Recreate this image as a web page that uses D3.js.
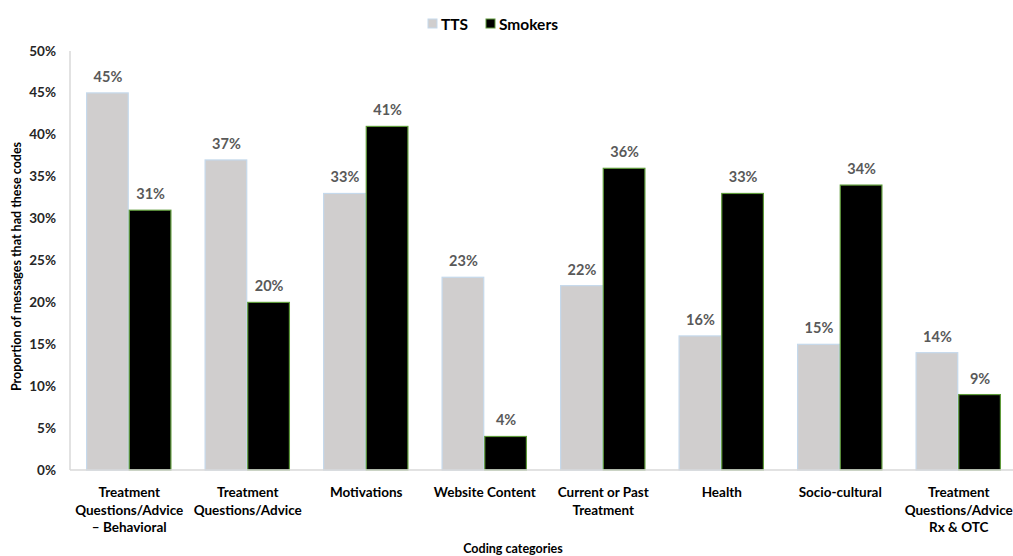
<!DOCTYPE html>
<html>
<head>
<meta charset="utf-8">
<script src="https://cdn.jsdelivr.net/npm/d3@7"></script>
<style>
  body { margin: 0; background: #fff; }
  text { font-family: Lato, "Open Sans", sans-serif; font-weight: bold; }
</style>
</head>
<body>
<script>
var width = 1013, height = 556;
var margin = {top: 51, left: 70, bottom: 86};

var categories = [
  ["Treatment", "Questions/Advice", "\u2013 Behavioral"],
  ["Treatment", "Questions/Advice"],
  ["Motivations"],
  ["Website Content"],
  ["Current or Past", "Treatment"],
  ["Health"],
  ["Socio-cultural"],
  ["Treatment", "Questions/Advice", "Rx & OTC"]
];
var tts = [45, 37, 33, 23, 22, 16, 15, 14];
var smokers = [31, 20, 41, 4, 36, 33, 34, 9];
var seriesNames = ["TTS", "Smokers"];
var yTicks = [0, 5, 10, 15, 20, 25, 30, 35, 40, 45, 50];

var fills = ["#d0cece", "#000000"];
var strokes = ["#c5d9ec", "#5e9a3a"];

var svg = d3.select("body").append("svg")
    .attr("width", width)
    .attr("height", height);

var y = d3.scaleLinear().domain([0, 50]).range([height - margin.bottom, margin.top]);
var x = d3.scaleBand().domain(d3.range(categories.length))
    .range([margin.left, margin.left + 8 * 118.5])
    .paddingInner(0.28).paddingOuter(0.14);
var xs = d3.scaleBand().domain([0, 1]).range([0, x.bandwidth()]);

// y axis line
svg.append("line")
    .attr("x1", margin.left).attr("x2", margin.left)
    .attr("y1", y(50)).attr("y2", y(0))
    .style("stroke", "#d9d9d9").style("stroke-width", 1.5);

// y tick labels
svg.selectAll(".ytick")
    .data(yTicks)
    .enter().append("text")
    .attr("x", 56)
    .attr("y", function(d) { return y(d) + 4.5; })
    .attr("text-anchor", "end")
    .attr("font-size", "13.5px")
    .attr("fill", "#262626")
    .text(function(d) { return d + "%"; });

var rows = [];
categories.forEach(function(c, i) {
  rows.push({cat: i, s: 0, v: tts[i]});
  rows.push({cat: i, s: 1, v: smokers[i]});
});

svg.selectAll(".bar")
    .data(rows)
    .enter().append("rect")
    .attr("x", function(d) { return x(d.cat) + xs(d.s); })
    .attr("width", xs.bandwidth() - 1)
    .attr("y", function(d) { return y(d.v); })
    .attr("height", function(d) { return y(0) - y(d.v); })
    .style("fill", function(d) { return fills[d.s]; })
    .style("stroke", function(d) { return strokes[d.s]; })
    .style("stroke-width", 1.2);

svg.selectAll(".val")
    .data(rows)
    .enter().append("text")
    .attr("x", function(d) { return x(d.cat) + xs(d.s) + xs.bandwidth() / 2; })
    .attr("y", function(d) { return y(d.v) - 11; })
    .attr("text-anchor", "middle")
    .attr("font-size", "14.5px")
    .attr("fill", "#595959")
    .text(function(d) { return d.v + "%"; });

svg.append("line")
    .attr("x1", margin.left).attr("x2", width)
    .attr("y1", y(0)).attr("y2", y(0))
    .style("stroke", "#d9d9d9").style("stroke-width", 1.5);

// category labels
var cl = svg.selectAll(".cat")
    .data(categories)
    .enter().append("text")
    .attr("text-anchor", "middle")
    .attr("font-size", "13.5px")
    .attr("fill", "#000");
cl.selectAll("tspan")
    .data(function(d, i) { return d.map(function(t) { return {t: t, i: i}; }); })
    .enter().append("tspan")
    .attr("x", function(d) { return x(d.i) + x.bandwidth() / 2; })
    .attr("y", function(d, j) { return 497 + j * 17.5; })
    .text(function(d) { return d.t; });

// axis titles
svg.append("text")
    .attr("transform", "translate(21," + ((y(0) + y(50)) / 2 + 6) + ") rotate(-90)")
    .attr("text-anchor", "middle")
    .attr("font-size", "12.5px")
    .attr("fill", "#000")
    .text("Proportion of messages that had these codes");

svg.append("text")
    .attr("x", 513).attr("y", 553)
    .attr("text-anchor", "middle")
    .attr("font-size", "12.5px")
    .attr("fill", "#000")
    .text("Coding categories");

// legend
var legX = [428, 486];
var leg = svg.selectAll(".leg")
    .data(seriesNames)
    .enter().append("g")
    .attr("transform", function(d, i) { return "translate(" + legX[i] + ",19)"; });
leg.append("rect")
    .attr("width", 9).attr("height", 9)
    .style("fill", function(d, i) { return fills[i]; })
    .style("stroke", function(d, i) { return strokes[i]; });
leg.append("text")
    .attr("x", 13).attr("y", 10.5)
    .attr("font-size", "15.5px")
    .attr("fill", "#000")
    .text(function(d) { return d; });
</script>
</body>
</html>
